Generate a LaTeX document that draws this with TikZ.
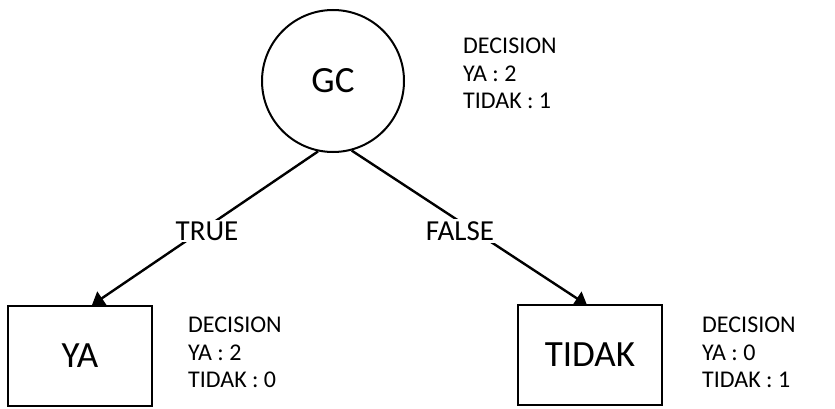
\documentclass[tikz,border=0pt]{standalone}
\usepackage{fontspec}
\setmainfont{Carlito}
\usetikzlibrary{arrows.meta}
\begin{document}
\begin{tikzpicture}[x=1pt,y=-1pt,
  conn/.style={line width=2.4pt,-{Triangle[length=12pt,width=16pt]}},
  lbl/.style={fill=white,inner sep=2pt,font=\fontsize{29}{29}\selectfont},
  info/.style={align=left,anchor=north west,font=\fontsize{24}{27.5}\selectfont,inner sep=0pt},
  box/.style={draw,line width=2pt,minimum width=144pt,minimum height=100pt,font=\fontsize{37}{37}\selectfont}]
\useasboundingbox (0,0) rectangle (835,409);
\node[draw,circle,line width=2pt,minimum size=142pt,font=\fontsize{37}{37}\selectfont] (gc) at (333,81) {GC};
\node[box] (ya) at (80,356) {YA};
\node[box] (td) at (590,355) {TIDAK};
\coordinate (ye) at (92,305);
\coordinate (te) at (587,305);
\draw[conn] (gc.-102) -- (ye);
\draw[conn] (gc.-75) -- (te);
\node[lbl] (t) at (207,231) {TRUE};
\node[lbl] (f) at (460,231) {FALSE};
\node[info] (i1) at (463,38) {DECISION\\YA : 2\\TIDAK : 1};
\node[info] (i2) at (188,317) {DECISION\\YA : 2\\TIDAK : 0};
\node[info] (i3) at (702,317) {DECISION\\YA : 0\\TIDAK : 1};
\end{tikzpicture}
\end{document}
